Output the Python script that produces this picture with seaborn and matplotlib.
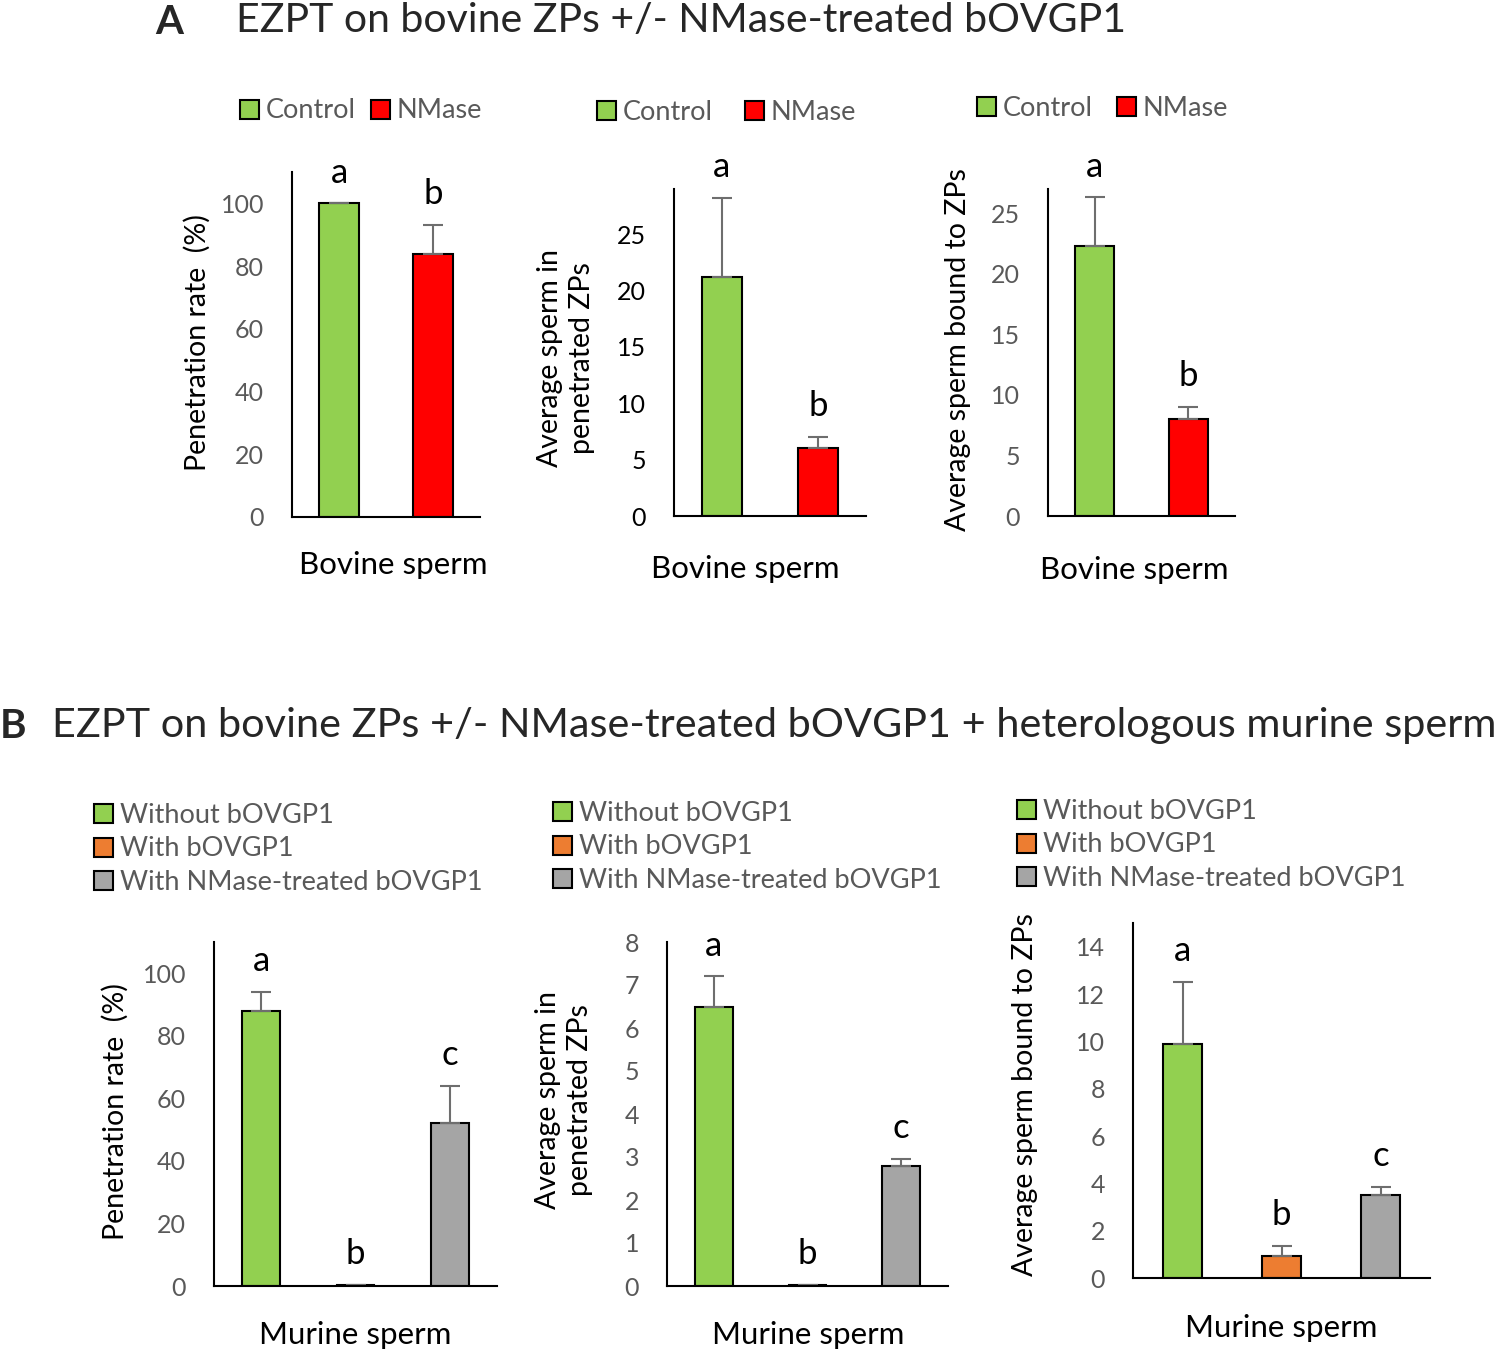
from matplotlib import pyplot as plt

import pandas as pd
import seaborn as sns

W, H = 1500, 1351

# panel A: bovine sperm, control vs NMase-treated bOVGP1
a_groups = ['Control', 'NMase']
a_letters = ['a', 'b']
a_penetration = [100, 84]
a_penetration_err = [0, 9]
a_sperm_in = [21.2, 6.0]
a_sperm_in_err = [7.0, 1.0]
a_bound = [22.3, 8.0]
a_bound_err = [4.0, 1.0]

# panel B: murine sperm, three treatments
b_groups = ['Without bOVGP1', 'With bOVGP1', 'With NMase-treated bOVGP1']
b_letters = ['a', 'b', 'c']
b_penetration = [88, 0.3, 52]
b_penetration_err = [6, 0, 12]
b_sperm_in = [6.5, 0.03, 2.8]
b_sperm_in_err = [0.7, 0, 0.15]
b_bound = [9.9, 0.95, 3.5]
b_bound_err = [2.6, 0.4, 0.35]

a_colors = ['#92D050', '#FF0000']
b_colors = ['#92D050', '#ED7D31', '#A5A5A5']

GREY = '#595959'

sns.set_style('white')
plt.rcParams['font.family'] = ['Lato', 'DejaVu Sans']

fig = plt.figure(figsize=(W / 100, H / 100), dpi=100)


def _fx(px):
    return px / W


def _fy(py):
    return (H - py) / H


def _add_axes(left, top, right, bottom):
    return fig.add_axes([_fx(left), _fy(bottom), _fx(right - left), (bottom - top) / H])


def _plot_panel(box, groups, values, errors, letters, colors, ylim, yticks, ylabel, ylabel_xy, xlabel, xlabel_xy,
                legend_xy, legend_cols, col_spacing, bar_width, tick_color=GREY):
    ax = _add_axes(*box)
    data = pd.DataFrame({'group': groups, 'value': values})
    sns.barplot(data=data, x='group', y='value', hue='group', palette=colors, saturation=1, width=bar_width,
                edgecolor='black', linewidth=1.5, ax=ax, legend=True)

    # only the upper half of each error bar is shown
    ax.errorbar(range(len(values)), values, yerr=[[0] * len(values), errors], fmt='none',
                ecolor='#6E6E6E', elinewidth=1.5, capsize=7, capthick=1.5)

    for i, (value, error, letter) in enumerate(zip(values, errors, letters)):
        ax.annotate(letter, (i, value + error), xytext=(0, 15), textcoords='offset points',
                    ha='center', va='baseline', fontsize=25, color='black')

    ax.set_ylim(ylim)
    ax.set_xlim(-0.5, len(values) - 0.5)
    ax.set_yticks(yticks)
    ax.set_xticks([])
    ax.tick_params(axis='y', direction='in', length=7, width=1.5, labelsize=18, labelcolor=tick_color, pad=20)
    sns.despine(ax=ax)
    for side in ['left', 'bottom']:
        ax.spines[side].set_linewidth(1.5)
        ax.spines[side].set_color('black')

    ax.set_ylabel(ylabel, fontsize=20.5, color='black', va='center', linespacing=1.25)
    ax.yaxis.set_label_coords(_fx(ylabel_xy[0]), _fy(ylabel_xy[1]), transform=fig.transFigure)
    ax.set_xlabel(xlabel, fontsize=22.5, color='black', va='center')
    ax.xaxis.set_label_coords(_fx(xlabel_xy[0]), _fy(xlabel_xy[1]), transform=fig.transFigure)

    sns.move_legend(ax, 'center left', bbox_to_anchor=(_fx(legend_xy[0]), _fy(legend_xy[1])),
                    bbox_transform=fig.transFigure, ncol=legend_cols, title=None, frameon=False,
                    fontsize=19.5, handlelength=0.7, handleheight=0.7, handletextpad=0.25,
                    columnspacing=col_spacing, labelspacing=0.33, borderpad=0, borderaxespad=0,
                    labelcolor=GREY)
    for handle in ax.get_legend().legend_handles:
        handle.set_edgecolor('black')
        handle.set_linewidth(1.5)
    return ax


# panel A
_plot_panel((292, 172, 480, 517), a_groups, a_penetration, a_penetration_err, a_letters, a_colors,
            (0, 110), range(0, 101, 20), 'Penetration rate  (%)', (197, 343), 'Bovine sperm', (393, 565),
            (240, 111), 2, 0.55, 0.42)
_plot_panel((674, 189, 866, 516), a_groups, a_sperm_in, a_sperm_in_err, a_letters, a_colors,
            (0, 29), range(0, 26, 5), 'Average sperm in\npenetrated ZPs', (566, 358), 'Bovine sperm', (745, 569),
            (597, 112), 2, 1.2, 0.42, tick_color='black')
_plot_panel((1048, 189, 1235, 516), a_groups, a_bound, a_bound_err, a_letters, a_colors,
            (0, 27), range(0, 26, 5), 'Average sperm bound to ZPs', (958, 350), 'Bovine sperm', (1134, 570),
            (977, 108), 2, 0.9, 0.42)

# panel B
_plot_panel((214, 942, 497, 1286), b_groups, b_penetration, b_penetration_err, b_letters, b_colors,
            (0, 110), range(0, 101, 20), 'Penetration rate  (%)', (115, 1112), 'Murine sperm', (355, 1335),
            (94, 849), 1, 0.6, 0.40)
_plot_panel((667, 942, 948, 1286), b_groups, b_sperm_in, b_sperm_in_err, b_letters, b_colors,
            (0, 8), range(0, 9), 'Average sperm in\npenetrated ZPs', (564, 1100), 'Murine sperm', (808, 1335),
            (553, 847), 1, 0.6, 0.40)
_plot_panel((1133, 923, 1430, 1278), b_groups, b_bound, b_bound_err, b_letters, b_colors,
            (0, 15), range(0, 15, 2), 'Average sperm bound to ZPs', (1025, 1095), 'Murine sperm', (1281, 1328),
            (1017, 845), 1, 0.6, 0.40)

fig.text(_fx(155), _fy(22), 'A', fontsize=29, fontweight='bold', va='center', ha='left')
fig.text(_fx(236), _fy(20), 'EZPT on bovine ZPs +/- NMase-treated bOVGP1', fontsize=29.5, va='center', ha='left')
fig.text(_fx(0), _fy(727), 'B', fontsize=29, fontweight='bold', va='center', ha='left')
fig.text(_fx(52), _fy(725), 'EZPT on bovine ZPs +/- NMase-treated bOVGP1 + heterologous murine sperm', fontsize=29.8,
         va='center', ha='left')

fig.savefig('out.png', dpi=100, facecolor='white')
